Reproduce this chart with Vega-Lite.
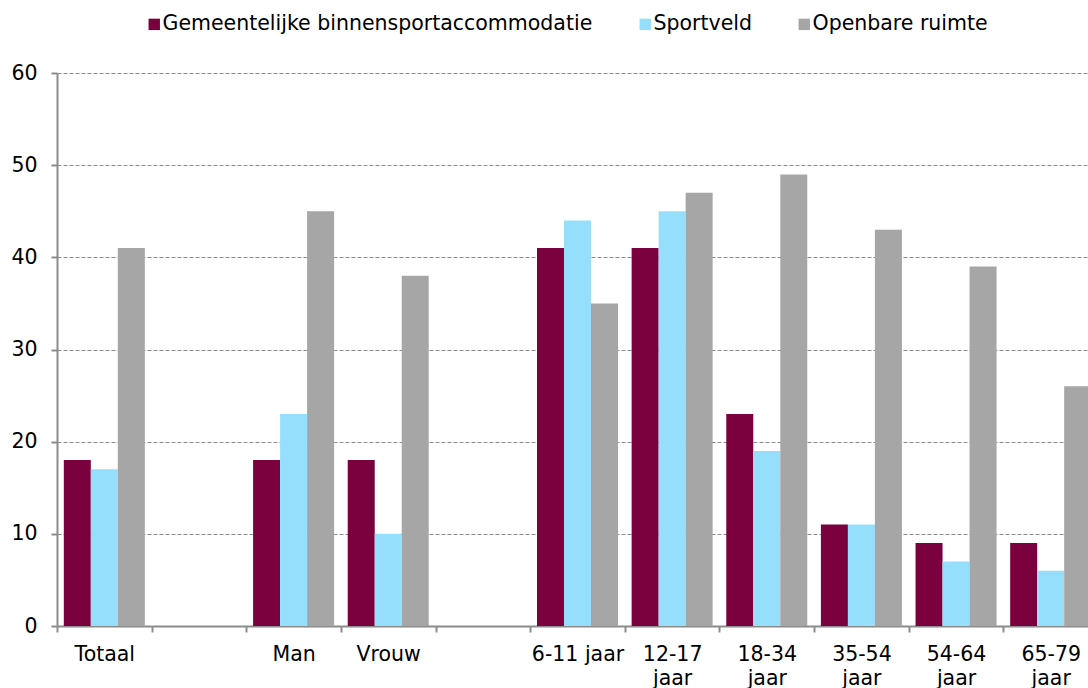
{
  "$schema": "https://vega.github.io/schema/vega-lite/v6.json",
  "autosize": {"type": "none"},
  "padding": {"left": 57, "top": 73, "right": 0, "bottom": 62},
  "width": 1031,
  "height": 553,
  "background": "white",
  "config": {
    "font": "DejaVu Sans",
    "view": {"stroke": null}
  },
  "data": {
    "values": [
      {"groep": "Totaal", "locatie": "Gemeentelijke binnensportaccommodatie", "pct": 18},
      {"groep": "Totaal", "locatie": "Sportveld", "pct": 17},
      {"groep": "Totaal", "locatie": "Openbare ruimte", "pct": 41},
      {"groep": "Man", "locatie": "Gemeentelijke binnensportaccommodatie", "pct": 18},
      {"groep": "Man", "locatie": "Sportveld", "pct": 23},
      {"groep": "Man", "locatie": "Openbare ruimte", "pct": 45},
      {"groep": "Vrouw", "locatie": "Gemeentelijke binnensportaccommodatie", "pct": 18},
      {"groep": "Vrouw", "locatie": "Sportveld", "pct": 10},
      {"groep": "Vrouw", "locatie": "Openbare ruimte", "pct": 38},
      {"groep": "6-11 jaar", "locatie": "Gemeentelijke binnensportaccommodatie", "pct": 41},
      {"groep": "6-11 jaar", "locatie": "Sportveld", "pct": 44},
      {"groep": "6-11 jaar", "locatie": "Openbare ruimte", "pct": 35},
      {"groep": "12-17 jaar", "locatie": "Gemeentelijke binnensportaccommodatie", "pct": 41},
      {"groep": "12-17 jaar", "locatie": "Sportveld", "pct": 45},
      {"groep": "12-17 jaar", "locatie": "Openbare ruimte", "pct": 47},
      {"groep": "18-34 jaar", "locatie": "Gemeentelijke binnensportaccommodatie", "pct": 23},
      {"groep": "18-34 jaar", "locatie": "Sportveld", "pct": 19},
      {"groep": "18-34 jaar", "locatie": "Openbare ruimte", "pct": 49},
      {"groep": "35-54 jaar", "locatie": "Gemeentelijke binnensportaccommodatie", "pct": 11},
      {"groep": "35-54 jaar", "locatie": "Sportveld", "pct": 11},
      {"groep": "35-54 jaar", "locatie": "Openbare ruimte", "pct": 43},
      {"groep": "54-64 jaar", "locatie": "Gemeentelijke binnensportaccommodatie", "pct": 9},
      {"groep": "54-64 jaar", "locatie": "Sportveld", "pct": 7},
      {"groep": "54-64 jaar", "locatie": "Openbare ruimte", "pct": 39},
      {"groep": "65-79 jaar", "locatie": "Gemeentelijke binnensportaccommodatie", "pct": 9},
      {"groep": "65-79 jaar", "locatie": "Sportveld", "pct": 6},
      {"groep": "65-79 jaar", "locatie": "Openbare ruimte", "pct": 26}
    ]
  },
  "mark": {"type": "bar"},
  "encoding": {
    "x": {
      "field": "groep",
      "type": "nominal",
      "scale": {
        "domain": ["Totaal", " ", "Man", "Vrouw", "  ", "6-11 jaar", "12-17 jaar", "18-34 jaar", "35-54 jaar", "54-64 jaar", "65-79 jaar"],
        "range": [0, 1041],
        "paddingInner": 0.144,
        "paddingOuter": 0.072
      },
      "axis": {
        "title": null,
        "labelAngle": 0,
        "labelFont": "DejaVu Sans",
        "labelFontSize": 20.5,
        "labelColor": "#000000",
        "labelLineHeight": 24,
        "labelPadding": 12,
        "labelBaseline": "top",
        "labelExpr": "datum.label == '6-11 jaar' ? datum.label : split(datum.label, ' ')",
        "tickOffset": -47.3,
        "labelOffset": 47.3,
        "tickSize": 6,
        "tickColor": "#8c8c8c",
        "tickWidth": 2,
        "domainColor": "#8c8c8c",
        "domainWidth": 2,
        "grid": false
      }
    },
    "xOffset": {
      "field": "locatie",
      "type": "nominal",
      "scale": {"domain": ["Gemeentelijke binnensportaccommodatie", "Sportveld", "Openbare ruimte"], "paddingInner": 0, "paddingOuter": 0}
    },
    "y": {
      "field": "pct",
      "type": "quantitative",
      "scale": {"domain": [0, 60], "nice": false},
      "axis": {
        "title": null,
        "values": [0, 10, 20, 30, 40, 50, 60],
        "labelFont": "DejaVu Sans",
        "labelFontSize": 20.5,
        "labelColor": "#000000",
        "labelPadding": 14,
        "tickSize": 6,
        "tickColor": "#8c8c8c",
        "tickWidth": 2,
        "domainColor": "#8c8c8c",
        "domainWidth": 2,
        "grid": true,
        "gridColor": "#8c8c8c",
        "gridDash": [4, 2],
        "gridWidth": 1.2
      }
    },
    "color": {
      "field": "locatie",
      "type": "nominal",
      "scale": {
        "domain": ["Gemeentelijke binnensportaccommodatie", "Sportveld", "Openbare ruimte"],
        "range": ["#7a003e", "#96dffc", "#a6a6a6"]
      },
      "legend": {
        "title": null,
        "orient": "none",
        "direction": "horizontal",
        "legendX": 87,
        "legendY": -59,
        "symbolType": "square",
        "symbolSize": 130,
        "symbolStrokeWidth": 0,
        "symbolOpacity": 1,
        "labelFont": "DejaVu Sans",
        "labelFontSize": 20.5,
        "labelColor": "#000000",
        "labelOffset": -2,
        "columnPadding": 42,
        "labelLimit": 600
      }
    }
  }
}
